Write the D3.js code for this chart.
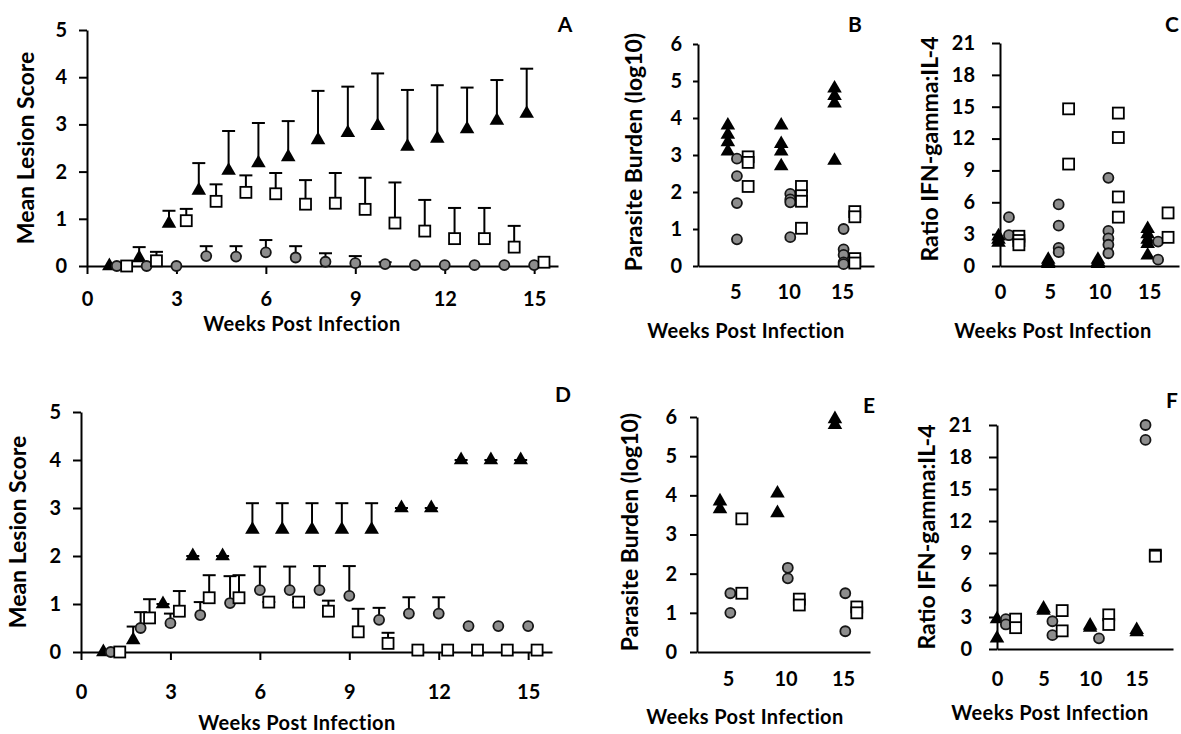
<!DOCTYPE html>
<html>
<head>
<meta charset="utf-8">
<script src="https://cdn.jsdelivr.net/npm/d3@7"></script>
<style>
  body { margin: 0; background: #fff; }
  svg text { font-family: Lato, "DejaVu Sans", sans-serif; font-weight: bold; fill: #000; }
</style>
</head>
<body>
<div id="body"></div>
<script>
// lesion time course (panels A and D)
var weeks = [1, 2, 3, 4, 5, 6, 7, 8, 9, 10, 11, 12, 13, 14, 15];

var aTriMean = [0, 0.17, 0.9, 1.6, 2.02, 2.18, 2.31, 2.67, 2.82, 2.97, 2.53, 2.7, 2.9, 3.08, 3.23];
var aTriErr  = [null, 0.4, 1.17, 2.18, 2.86, 3.03, 3.07, 3.71, 3.8, 4.08, 3.73, 3.83, 3.78, 3.94, 4.18];
var aCircMean = [0, 0, 0, 0.21, 0.2, 0.29, 0.18, 0.09, 0.06, 0.04, 0.02, 0.02, 0.02, 0.02, 0.02];
var aCircErr  = [null, null, null, 0.42, 0.42, 0.55, 0.42, 0.27, 0.21, 0.08, null, null, null, null, null];
var aSqMean = [0, 0.11, 0.96, 1.37, 1.56, 1.53, 1.31, 1.33, 1.2, 0.91, 0.74, 0.58, 0.58, 0.4, 0.08];
var aSqErr  = [null, 0.3, 1.21, 1.73, 1.92, 1.97, 1.82, 1.97, 1.87, 1.77, 1.4, 1.23, 1.23, 0.85, null];

var dTriMean = [0, 0.25, 1.0, 2.0, 2.0, 2.55, 2.55, 2.55, 2.55, 2.55, 3.0, 3.0, 4.0, 4.0, 4.0];
var dTriErr  = [null, 0.53, 1.0, 2.0, 2.0, 3.1, 3.1, 3.1, 3.1, 3.1, 3.0, 3.0, 4.0, 4.0, 4.0];
var dCircMean = [0, 0.5, 0.6, 0.77, 1.02, 1.29, 1.29, 1.29, 1.17, 0.67, 0.8, 0.8, 0.54, 0.54, 0.54];
var dCircErr  = [null, 0.83, 0.8, 1.04, 1.58, 1.78, 1.78, 1.79, 1.79, 0.92, 1.14, 1.14, null, null, null];
var dSqMean = [0, 0.71, 0.85, 1.13, 1.13, 1.04, 1.04, 0.85, 0.42, 0.18, 0.04, 0.04, 0.04, 0.04, 0.04];
var dSqErr  = [null, 1.1, 1.27, 1.6, 1.6, 1.04, 1.04, 1.07, 0.9, 0.4, null, null, null, null, null];

// individual animals (panels B, C, E, F)
var burdenWeeks = [5, 10, 15];
var ratioWeeks = [0, 5, 10, 15];

var bTri  = [[3.8, 3.55, 3.35, 3.1], [3.8, 3.3, 3.1, 2.7], [4.8, 4.6, 4.4, 2.85]];
var bCirc = [[2.9, 2.43, 1.7, 0.72], [1.95, 1.8, 1.72, 0.78], [1.0, 0.45, 0.3, 0.1, 0.05]];
var bSq   = [[2.95, 2.8, 2.15], [2.15, 1.9, 1.75, 1.02], [1.47, 1.33, 0.2, 0.08]];

var cTri  = [[2.8, 2.5, 2.2], [0.6, 0.4, 0.2], [0.6, 0.4, 0.2], [3.5, 3.0, 2.5, 2.1, 1.0]];
var cCirc = [[4.6, 2.9], [5.8, 3.8, 1.7, 1.3], [8.3, 3.3, 2.6, 2.0, 1.2], [2.3, 0.6]];
var cSq   = [[2.8, 2.4, 2.0], [14.8, 9.6], [14.4, 12.1, 6.5, 4.6], [5.0, 2.7]];

var eTri  = [[3.85, 3.65], [4.05, 3.55], [5.95, 5.8]];
var eCirc = [[1.5, 1.0], [2.15, 1.88], [1.5, 0.53]];
var eSq   = [[3.4, 1.5], [1.35, 1.2], [1.15, 1.0]];

var fTri  = [[2.8, 1.0], [3.8, 3.6], [2.2, 2.0], [1.8, 1.6]];
var fCirc = [[2.8, 2.3], [2.6, 1.3], [1.0], [21.0, 19.6]];
var fSq   = [[2.8, 2.0], [3.6, 1.7], [3.2, 2.3], [8.8, 8.7]];

var lesionTicks = [0, 1, 2, 3, 4, 5];
var lesionWeekTicks = [0, 3, 6, 9, 12, 15];
var burdenTicks = [0, 1, 2, 3, 4, 5, 6];
var ratioTicks = [0, 3, 6, 9, 12, 15, 18, 21];

var svg = d3.select("#body")
  .append("svg")
  .attr("width", 1181)
  .attr("height", 734);

function drawMarks(g, shape, pts) {
  var sel = g.append("g").selectAll(null).data(pts).enter();
  if (shape == "tri") {
    sel.append("path")
      .attr("d", d3.symbol().type(d3.symbolTriangle).size(92))
      .attr("transform", function(d) { return "translate(" + d[0] + "," + d[1] + ")"; })
      .attr("fill", "#000");
  } else if (shape == "circ") {
    sel.append("circle")
      .attr("cx", function(d) { return d[0]; })
      .attr("cy", function(d) { return d[1]; })
      .attr("r", 5)
      .attr("fill", "#8d8d8d")
      .attr("stroke", "#161616")
      .attr("stroke-width", 1.8);
  } else {
    sel.append("rect")
      .attr("x", function(d) { return d[0] - 5.5; })
      .attr("y", function(d) { return d[1] - 5.5; })
      .attr("width", 11)
      .attr("height", 11)
      .attr("fill", "#fff")
      .attr("stroke", "#000")
      .attr("stroke-width", 1.8);
  }
}

function drawAxes(g, x, y, o) {
  var ya = g.append("g")
    .attr("transform", "translate(" + x.range()[0] + ",0)")
    .call(d3.axisLeft(y).tickValues(o.yTicks).tickFormat(d3.format("d"))
      .tickSize(o.yLen).tickSizeOuter(0).tickPadding(o.yPad));
  var xa = g.append("g")
    .attr("transform", "translate(0," + y(0) + ")")
    .call(d3.axisBottom(x).tickValues(o.xTicks).tickFormat(d3.format("d"))
      .tickSize(o.xLen).tickSizeOuter(0).tickPadding(o.xPad));
  [ya, xa].forEach(function(a) {
    a.selectAll("path, line").attr("stroke", "#000").attr("stroke-width", 2);
    a.selectAll("text").attr("font-size", 20).attr("font-family", "Lato, sans-serif").attr("font-weight", "bold");
  });

  g.append("text")
    .attr("transform", "translate(" + o.yTitle[0] + "," + o.yTitle[1] + ") rotate(-90)")
    .attr("text-anchor", "middle")
    .attr("dominant-baseline", "central")
    .attr("font-size", 23)
    .text(o.yLabel);

  g.append("text")
    .attr("x", o.xTitle[0])
    .attr("y", o.xTitle[1])
    .attr("text-anchor", "middle")
    .attr("font-size", 20)
    .attr("letter-spacing", 0.4)
    .text("Weeks Post Infection");

  g.append("text")
    .attr("x", o.letter[0])
    .attr("y", o.letter[1])
    .attr("text-anchor", "middle")
    .attr("font-size", 21)
    .text(o.letter[2]);
}

function lesionPanel(o, series) {
  var g = svg.append("g");
  var x = d3.scaleLinear().domain([0, 15.8]).range(o.xr);
  var y = d3.scaleLinear().domain([0, 5]).range(o.yr);
  drawAxes(g, x, y, o);

  series.forEach(function(s) {
    var pts = weeks.map(function(w, i) { return [x(w + s.off), y(s.mean[i]), s.err[i]]; });
    var bars = g.append("g").attr("stroke", "#000").attr("stroke-width", 2);
    pts.forEach(function(p) {
      if (p[2] == null) return;
      bars.append("line").attr("x1", p[0]).attr("x2", p[0]).attr("y1", p[1]).attr("y2", y(p[2]));
      bars.append("line").attr("x1", p[0] - 6.5).attr("x2", p[0] + 6.5).attr("y1", y(p[2])).attr("y2", y(p[2]));
    });
  });
  series.forEach(function(s) {
    var pts = weeks.map(function(w, i) { return [x(w + s.off), y(s.mean[i])]; });
    drawMarks(g, s.shape, pts);
  });
}

function scatterPanel(o, wk, series) {
  var g = svg.append("g");
  var x = d3.scaleLinear().domain(o.xd).range(o.xr);
  var y = d3.scaleLinear().domain(o.yd).range(o.yr);
  drawAxes(g, x, y, o);

  series.forEach(function(s) {
    var pts = [];
    wk.forEach(function(w, i) {
      s.vals[i].forEach(function(v) { pts.push([x(w + s.off), y(v)]); });
    });
    drawMarks(g, s.shape, pts);
  });
}

lesionPanel({
  xr: [87, 558], yr: [266, 30],
  xTicks: lesionWeekTicks, yTicks: lesionTicks,
  xLen: 8, xPad: 18, yLen: 8, yPad: 12,
  yLabel: "Mean Lesion Score", yTitle: [25, 148], xTitle: [302, 331], letter: [565, 32, "A"]
}, [
  { shape: "tri", off: -0.25, mean: aTriMean, err: aTriErr },
  { shape: "circ", off: 0, mean: aCircMean, err: aCircErr },
  { shape: "sq", off: 0.33, mean: aSqMean, err: aSqErr }
]);

lesionPanel({
  xr: [81, 552], yr: [652, 412],
  xTicks: lesionWeekTicks, yTicks: lesionTicks,
  xLen: 8, xPad: 25, yLen: 8, yPad: 12,
  yLabel: "Mean Lesion Score", yTitle: [17, 532], xTitle: [297, 730], letter: [563, 402, "D"]
}, [
  { shape: "tri", off: -0.25, mean: dTriMean, err: dTriErr },
  { shape: "circ", off: 0, mean: dCircMean, err: dCircErr },
  { shape: "sq", off: 0.3, mean: dSqMean, err: dSqErr }
]);

scatterPanel({
  xd: [1.5, 18], xr: [698, 874], yd: [0, 6], yr: [266, 44],
  xTicks: burdenWeeks, yTicks: burdenTicks,
  xLen: 0, xPad: 19, yLen: 5, yPad: 11,
  yLabel: "Parasite Burden (log10)", yTitle: [633, 152], xTitle: [746, 338], letter: [855, 32, "B"]
}, burdenWeeks, [
  { shape: "tri", off: -0.7, vals: bTri },
  { shape: "circ", off: 0.15, vals: bCirc },
  { shape: "sq", off: 1.2, vals: bSq }
]);

scatterPanel({
  xd: [0, 18], xr: [1000, 1179], yd: [0, 21], yr: [266, 43],
  xTicks: ratioWeeks, yTicks: ratioTicks,
  xLen: 0, xPad: 19, yLen: 8, yPad: 17,
  yLabel: "Ratio IFN-gamma:IL-4", yTitle: [929, 149], xTitle: [1053, 338], letter: [1172, 32, "C"]
}, ratioWeeks, [
  { shape: "tri", off: -0.15, vals: cTri },
  { shape: "circ", off: 0.9, vals: cCirc },
  { shape: "sq", off: 1.9, vals: cSq }
]);

scatterPanel({
  xd: [2.3, 17.35], xr: [697, 870], yd: [0, 6], yr: [652, 417],
  xTicks: burdenWeeks, yTicks: burdenTicks,
  xLen: 0, xPad: 20, yLen: 7, yPad: 13,
  yLabel: "Parasite Burden (log10)", yTitle: [629, 532], xTitle: [745, 724], letter: [869, 413, "E"]
}, burdenWeeks, [
  { shape: "tri", off: -0.7, vals: eTri },
  { shape: "circ", off: 0.2, vals: eCirc },
  { shape: "sq", off: 1.2, vals: eSq }
]);

scatterPanel({
  xd: [0, 18.9], xr: [997, 1173], yd: [0, 21], yr: [649, 425],
  xTicks: ratioWeeks, yTicks: ratioTicks,
  xLen: 0, xPad: 23, yLen: 8, yPad: 17,
  yLabel: "Ratio IFN-gamma:IL-4", yTitle: [926, 537], xTitle: [1050, 720], letter: [1172, 408, "F"]
}, ratioWeeks, [
  { shape: "tri", off: 0, vals: fTri },
  { shape: "circ", off: 0.95, vals: fCirc },
  { shape: "sq", off: 2.0, vals: fSq }
]);
</script>
</body>
</html>
